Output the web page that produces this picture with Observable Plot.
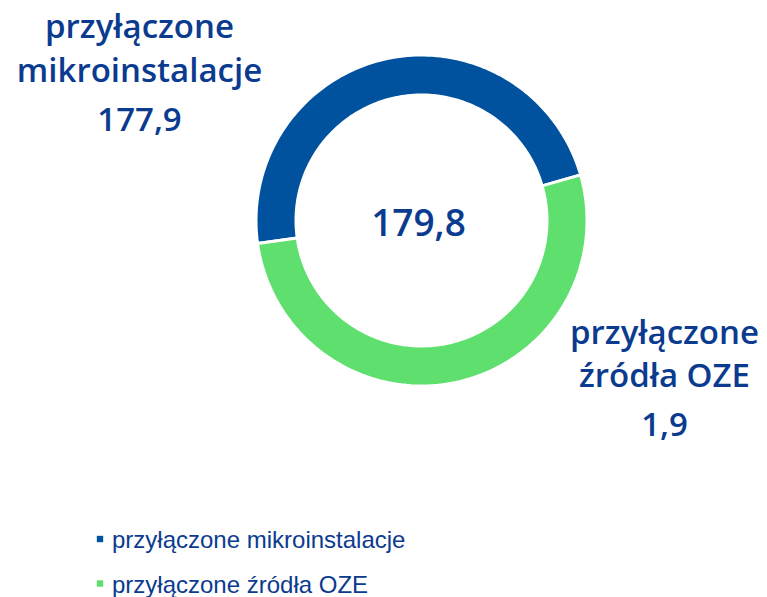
<!DOCTYPE html>
<html>
<head>
<meta charset="utf-8">
<script src="https://cdn.jsdelivr.net/npm/d3@7"></script>
<script src="https://cdn.jsdelivr.net/npm/@observablehq/plot@0.6"></script>
<style>
  html, body { margin: 0; padding: 0; background: #fff; }
  #chart svg { display: block; }
</style>
</head>
<body>
<div id="chart"></div>
<script>
// ---- data ----
const categories = ["przyłączone mikroinstalacje", "przyłączone źródła OZE"];
const labelLines = [["przyłączone", "mikroinstalacje"], ["przyłączone", "źródła OZE"]];
const values = [177.9, 1.9];          // printed values
const total = 179.8;                  // printed in the centre
const arcShares = [172, 188];         // arc sizes as drawn in the picture (degrees)
const colors = ["#00529F", "#5EDF6E"];

// ---- layout ----
const W = 767, H = 597;
const cx = 421, cy = 220, rOuter = 165.5, rInner = 125.5;
const startDeg = -98;
const textColor = "#0B3B8F";
const fmt = v => d3.format(".1f")(v).replace(".", ",");

const pie = d3.pie().sort(null).value(d => d.share)
  .startAngle(startDeg * Math.PI / 180)
  .endAngle((startDeg + 360) * Math.PI / 180);
const slices = pie(categories.map((c, i) => ({cat: c, share: arcShares[i], color: colors[i]})));

const ring = [];
for (const s of slices) {
  const n = 120;
  const ang = d3.range(n + 1).map(k => s.startAngle + (s.endAngle - s.startAngle) * k / n);
  for (const a of ang) ring.push({cat: s.data.cat, color: s.data.color, x: cx + rOuter * Math.sin(a), y: cy - rOuter * Math.cos(a)});
  for (const a of ang.slice().reverse()) ring.push({cat: s.data.cat, color: s.data.color, x: cx + rInner * Math.sin(a), y: cy - rInner * Math.cos(a)});
  ring.push({cat: s.data.cat, color: s.data.color, x: cx + rOuter * Math.sin(s.startAngle), y: cy - rOuter * Math.cos(s.startAngle)});
}

// label placements
const labelPos = [
  {x: 139, names: [37, 81], value: 130},
  {x: 664, names: [343, 386], value: 435}
];
const nameText = [], valueText = [];
categories.forEach((c, i) => {
  labelLines[i].forEach((ln, j) => nameText.push({x: labelPos[i].x, y: labelPos[i].names[j], t: ln}));
  valueText.push({x: labelPos[i].x, y: labelPos[i].value, t: fmt(values[i])});
});

const legend = categories.map((c, i) => ({cat: c, color: colors[i], x: 99.5, y: 538.5 + i * 44.5}));

const plot = Plot.plot({
  width: W, height: H,
  margin: 0,
  x: {domain: [0, W], range: [0, W], axis: null},
  y: {domain: [0, H], range: [0, H], axis: null},
  style: {background: "#fff"},
  marks: [
    Plot.line(ring, {x: "x", y: "y", z: "cat", fill: d => d.color, stroke: "white", strokeWidth: 3, strokeLinejoin: "miter"}),
    Plot.text([{x: 418, y: 235, t: fmt(total)}], {x: "x", y: "y", text: "t", lineAnchor: "bottom", fill: textColor, fontSize: 37, fontWeight: 600, fontFamily: "Open Sans"}),
    Plot.text(nameText, {x: "x", y: "y", text: "t", lineAnchor: "bottom", fill: textColor, fontSize: 33, fontWeight: 600, fontFamily: "Open Sans"}),
    Plot.text(valueText, {x: "x", y: "y", text: "t", lineAnchor: "bottom", fill: textColor, fontSize: 33, fontWeight: 600, fontFamily: "Open Sans"}),
    Plot.dot(legend, {x: "x", y: "y", symbol: "square", r: 3.6, fill: d => d.color, stroke: null}),
    Plot.text(legend, {x: d => d.x + 12, y: d => d.y + 9, text: "cat", textAnchor: "start", lineAnchor: "bottom", fill: textColor, fontSize: 24, fontFamily: "Liberation Sans"})
  ]
});
document.getElementById("chart").appendChild(plot);
</script>
</body>
</html>
